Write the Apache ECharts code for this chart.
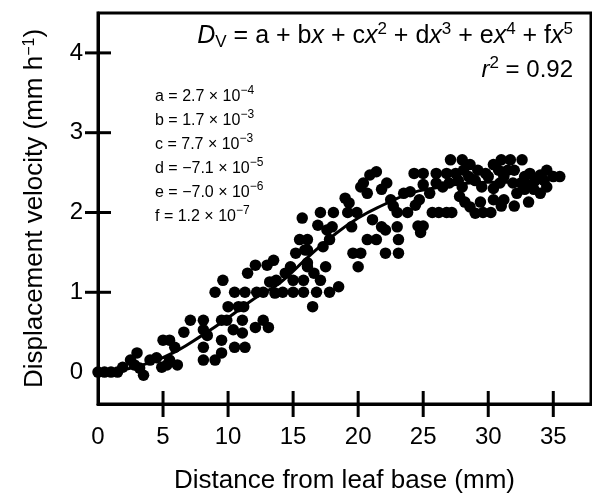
<!DOCTYPE html>
<html>
<head>
<meta charset="utf-8">
<script src="https://cdn.jsdelivr.net/npm/echarts@6/dist/echarts.min.js"></script>
<style>
  html, body { margin: 0; padding: 0; background: #fff; }
  #main { width: 592px; height: 493px; }
</style>
</head>
<body>
<div id="main"></div>
<script>
// 数据：叶片基部距离 (mm) vs 位移速度 (mm h-1)
const xTicks = [5, 10, 15, 20, 25, 30, 35];
const xLabels = [0, 5, 10, 15, 20, 25, 30, 35];
const yTicks = [1, 2, 3, 4];
const yLabels = [0, 1, 2, 3, 4];
const X_MIN = 0, X_MAX = 37.9;
const Y_MIN = -0.4, Y_MAX = 4.5;

// 散点 [distance, velocity]
const points = [
  [0, 0], [0.5, 0], [1, 0], [1.5, 0], [1.9, 0.06], [2.5, 0.15], [2.8, 0.09], [3, 0.24],
  [3.2, 0.05], [3.5, -0.04], [4, 0.15], [4.5, 0.18], [4.9, 0.06], [5, 0.4], [5.5, 0.4],
  [5.5, 0.15], [5.3, 0.09], [5.9, 0.31], [6.1, 0.09], [6.6, 0.5], [7.1, 0.65], [8.1, 0.65],
  [8.1, 0.53], [8.4, 0.46], [8.1, 0.31], [8.1, 0.15], [9, 0.15], [9.5, 0.24], [9.5, 0.4],
  [9.5, 0.65], [9.9, 0.65], [10.5, 0.31], [11.3, 0.31], [10.4, 0.53], [11.1, 0.65],
  [11.1, 0.49], [11.2, 0.82], [12.1, 0.56], [12.7, 0.65], [13.1, 0.56],
  [9, 1.0], [9.6, 1.15], [10.5, 1.0], [11.3, 1.0], [12.2, 1.0], [11.5, 1.24], [12.1, 1.34],
  [13, 1.34], [13.5, 1.4], [13.2, 1.13], [13.7, 1.15], [14.2, 1.0], [15, 1.0], [15.8, 1.0],
  [16.8, 1.0], [17.8, 1.0], [15, 1.15], [15.8, 1.15], [16.6, 1.24], [17.1, 1.15], [16.1, 1.32],
  [17.5, 1.32], [16.5, 0.82], [15.2, 1.49], [16.1, 1.53], [18.5, 1.07],
  [14.4, 1.24], [14.8, 1.32], [12.7, 1.0], [13.6, 0.99], [10, 0.82], [10.8, 0.82],
  [15.5, 1.66], [16.1, 1.66], [17.6, 1.78], [17.8, 1.66], [15.9, 1.53], [17.3, 1.57],
  [16.1, 1.37], [19.6, 1.49], [20.2, 1.49], [20, 1.32], [20.7, 1.66], [21.4, 1.66],
  [22.1, 1.78], [23.1, 1.66], [22.1, 1.49], [23.1, 1.49], [15.7, 1.93], [16.9, 1.84],
  [18, 1.82], [19.5, 1.82], [21.1, 1.91], [21.8, 1.82], [23, 1.82], [17.1, 2.0], [18.1, 2.0],
  [19.2, 2.0], [19.9, 2.0], [19, 2.18], [19.3, 2.12], [20.4, 2.37], [20.2, 2.32], [20.7, 2.24],
  [20.9, 2.47], [21.4, 2.51], [22.5, 2.16], [22.7, 2.08], [23, 2.0], [23.8, 2.0], [24.4, 2.09],
  [23.5, 2.24], [24, 2.26], [25, 2.35], [24.3, 2.49], [25, 2.49], [26, 2.49], [26.8, 2.49],
  [27.1, 2.66], [28, 2.66], [28.1, 2.53], [28.6, 2.6], [25.7, 2.0], [26.2, 2.0], [26.8, 2.0],
  [25, 1.83], [26.5, 2.32], [28.6, 2.07], [29.4, 2.13], [29.6, 2.0], [30.2, 2.0], [29.8, 2.49],
  [30.4, 2.6], [31, 2.66], [31.7, 2.66], [32.6, 2.66], [31.5, 2.53], [30.9, 2.37], [31.9, 2.37],
  [30.4, 2.16], [31.2, 2.16], [32.2, 2.24], [33.1, 2.13], [33.2, 2.49], [34, 2.47], [34.5, 2.53],
  [35, 2.45], [35.5, 2.45], [34, 2.24], [34.5, 2.32], [27, 2.37], [27.7, 2.4], [29, 2.4],
  [32.5, 2.37], [33, 2.35],
  [27.5, 2.49], [28.5, 2.45], [29.2, 2.53], [30, 2.45], [30.8, 2.53], [31.2, 2.45], [32, 2.53],
  [32.8, 2.45], [33.6, 2.4], [34.3, 2.4], [33.5, 2.29], [32.8, 2.29], [28, 2.32], [29.5, 2.32],
  [30.4, 2.3], [26, 2.37], [25.5, 2.24], [24.7, 2.16], [27.8, 2.2], [28.2, 2.13], [31, 2.08],
  [32, 2.08], [29, 1.99], [27.2, 2.0], [24.6, 1.83], [24.8, 1.75], [21.8, 2.29], [22.2, 2.37]
];

// 拟合曲线
const curveX = [0, 2, 4, 6, 8, 10, 12, 14, 16, 18, 20, 22, 24, 26, 28, 30, 32, 34.2];
const curveY = [0, 0.03, 0.12, 0.26, 0.46, 0.68, 0.92, 1.12, 1.42, 1.7, 1.93, 2.1, 2.24, 2.31, 2.36, 2.38, 2.38, 2.38];

const coefLines = [
  'a = 2.7 × 10{sup|−4}',
  'b = 1.7 × 10{sup|−3}',
  'c = 7.7 × 10{sup|−3}',
  'd = −7.1 × 10{sup|−5}',
  'e = −7.0 × 10{sup|−6}',
  'f = 1.2 × 10{sup|−7}'
];

const FONT = 'Liberation Sans, Arial, Helvetica, sans-serif';
const TICK_LEN = 13;

var chart = echarts.init(document.getElementById('main'));

var option = {
  backgroundColor: '#fff',
  animation: false,
  grid: {
    left: 98, right: 1, top: 13, bottom: 89,
    outerBoundsMode: 'none',
    show: true, borderColor: '#000', borderWidth: 3, backgroundColor: 'transparent'
  },
  xAxis: {
    type: 'value',
    min: X_MIN, max: X_MAX,
    name: 'Distance from leaf base (mm)',
    nameLocation: 'middle',
    nameGap: 64,
    nameTextStyle: { fontFamily: FONT, fontSize: 26, color: '#000' },
    axisLine: { show: true, onZero: false, lineStyle: { color: '#000', width: 3 } },
    axisTick: { show: false },
    axisLabel: {
      customValues: xLabels, margin: 21,
      fontFamily: FONT, fontSize: 24, color: '#000'
    },
    splitLine: { show: false }
  },
  yAxis: {
    type: 'value',
    min: Y_MIN, max: Y_MAX,
    name: 'Displacement velocity (mm h{sup|−1})',
    nameLocation: 'middle',
    nameGap: 50,
    nameTextStyle: {
      fontFamily: FONT, fontSize: 26, color: '#000',
      rich: { sup: { fontFamily: FONT, fontSize: 16, color: '#000', verticalAlign: 'top' } }
    },
    axisLine: { show: true, onZero: false, lineStyle: { color: '#000', width: 3 } },
    axisTick: { show: false },
    axisLabel: {
      customValues: yLabels, margin: 15,
      fontFamily: FONT, fontSize: 24, color: '#000'
    },
    splitLine: { show: false }
  },
  graphic: [
    {
      type: 'text', right: 19, top: 21,
      style: {
        text: '{i|D}{sub|V} = a + b{i|x} + c{i|x}{sup|2} + d{i|x}{sup|3} + e{i|x}{sup|4} + f{i|x}{sup|5}',
        font: '25px ' + FONT, fill: '#000',
        rich: {
          i: { fontFamily: FONT, fontSize: 25, fontStyle: 'italic', fill: '#000', lineHeight: 30 },
          sub: { fontFamily: FONT, fontSize: 17, fill: '#000', verticalAlign: 'bottom' },
          sup: { fontFamily: FONT, fontSize: 17, fill: '#000', verticalAlign: 'top' }
        }
      }
    },
    {
      type: 'text', right: 19, top: 55,
      style: {
        text: '{i|r}{sup|2} = 0.92',
        font: '24px ' + FONT, fill: '#000',
        rich: {
          i: { fontFamily: FONT, fontSize: 24, fontStyle: 'italic', fill: '#000', lineHeight: 30 },
          sup: { fontFamily: FONT, fontSize: 17, fill: '#000', verticalAlign: 'top' }
        }
      }
    },
    {
      type: 'text', left: 155, top: 85,
      style: {
        text: coefLines.join('\n'),
        font: '16px ' + FONT, fill: '#000', lineHeight: 24,
        rich: {
          sup: { fontFamily: FONT, fontSize: 12, fill: '#000', verticalAlign: 'top' }
        }
      }
    }
  ],
  series: [
    {
      type: 'scatter',
      data: points,
      symbol: 'circle',
      symbolSize: 11.5,
      itemStyle: { color: '#000', opacity: 1 },
      z: 2
    },
    {
      type: 'line',
      data: curveX.map((x, i) => [x, curveY[i]]),
      smooth: true,
      showSymbol: false,
      lineStyle: { color: '#000', width: 3 },
      z: 3
    },
    // 内侧刻度线：用细长矩形符号画在坐标轴上
    {
      type: 'scatter',
      data: xTicks.map(v => [v, Y_MIN]),
      symbol: 'rect',
      symbolSize: [3, TICK_LEN * 2],
      clip: true,
      silent: true,
      itemStyle: { color: '#000', opacity: 1 },
      z: 4
    },
    {
      type: 'scatter',
      data: yTicks.map(v => [X_MIN, v]),
      symbol: 'rect',
      symbolSize: [TICK_LEN * 2, 3],
      clip: true,
      silent: true,
      itemStyle: { color: '#000', opacity: 1 },
      z: 4
    }
  ]
};
chart.setOption(option);
</script>
</body>
</html>
